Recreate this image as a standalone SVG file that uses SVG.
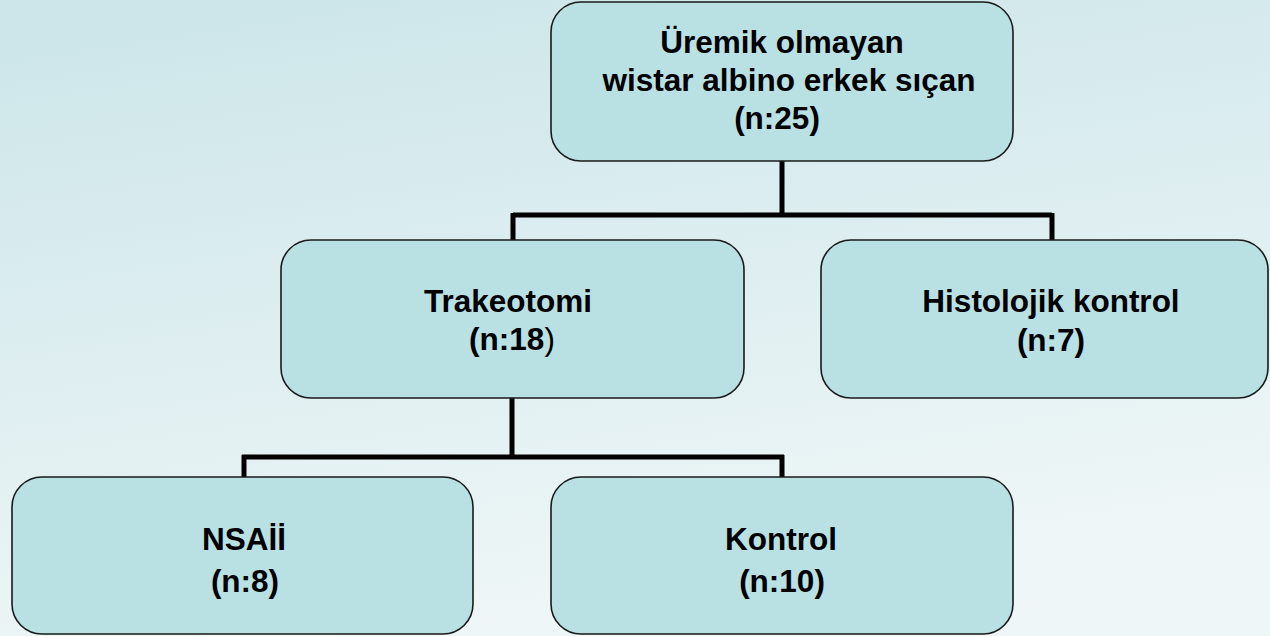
<svg xmlns="http://www.w3.org/2000/svg" width="1270" height="636" viewBox="0 0 1270 636">
<defs>
<linearGradient id="bg" x1="0" y1="0" x2="0.3" y2="1">
<stop offset="0" stop-color="#cbe5e9"/>
<stop offset="1" stop-color="#eef6f7"/>
</linearGradient>
<style>
.box{fill:#b9e0e3;stroke:#1a1a1a;stroke-width:1.6}
.t{font-family:"Liberation Sans",Arial,sans-serif;font-weight:bold;font-size:31.5px;fill:#000;text-anchor:middle}
.c{fill:none;stroke:#000;stroke-width:5}
</style>
</defs>
<rect x="0" y="0" width="1270" height="636" fill="url(#bg)"/>
<g id="connectors">
<path class="c" d="M782 161 V215 M513 215 H1052 M513 213 V240 M1052 213 V240"/>
<path class="c" d="M512 398 V457 M242 457 H784 M244 455 V477 M782 455 V477"/>
</g>
<g id="root">
<rect class="box" x="551" y="2" width="462" height="159" rx="30"/>
<text class="t" x="782" y="53">Üremik olmayan</text>
<text class="t" x="789" y="91">wistar albino erkek sıçan</text>
<text class="t" x="777" y="129">(n:25)</text>
</g>
<g id="trakeotomi">
<rect class="box" x="281" y="240" width="463" height="158" rx="30"/>
<text class="t" x="508" y="312">Trakeotomi</text>
<text class="t" x="512" y="350">(n:18<tspan font-weight="normal">)</tspan></text>
</g>
<g id="histolojik">
<rect class="box" x="821" y="240" width="447" height="158" rx="30"/>
<text class="t" x="1051" y="312">Histolojik kontrol</text>
<text class="t" x="1051" y="351">(n:7)</text>
</g>
<g id="nsaii">
<rect class="box" x="12" y="477" width="461" height="157" rx="30"/>
<text class="t" x="244" y="550">NSAİİ</text>
<text class="t" x="245" y="592">(n:8)</text>
</g>
<g id="kontrol">
<rect class="box" x="551" y="477" width="462" height="157" rx="30"/>
<text class="t" x="781" y="550">Kontrol</text>
<text class="t" x="782" y="592">(n:10)</text>
</g>
</svg>
